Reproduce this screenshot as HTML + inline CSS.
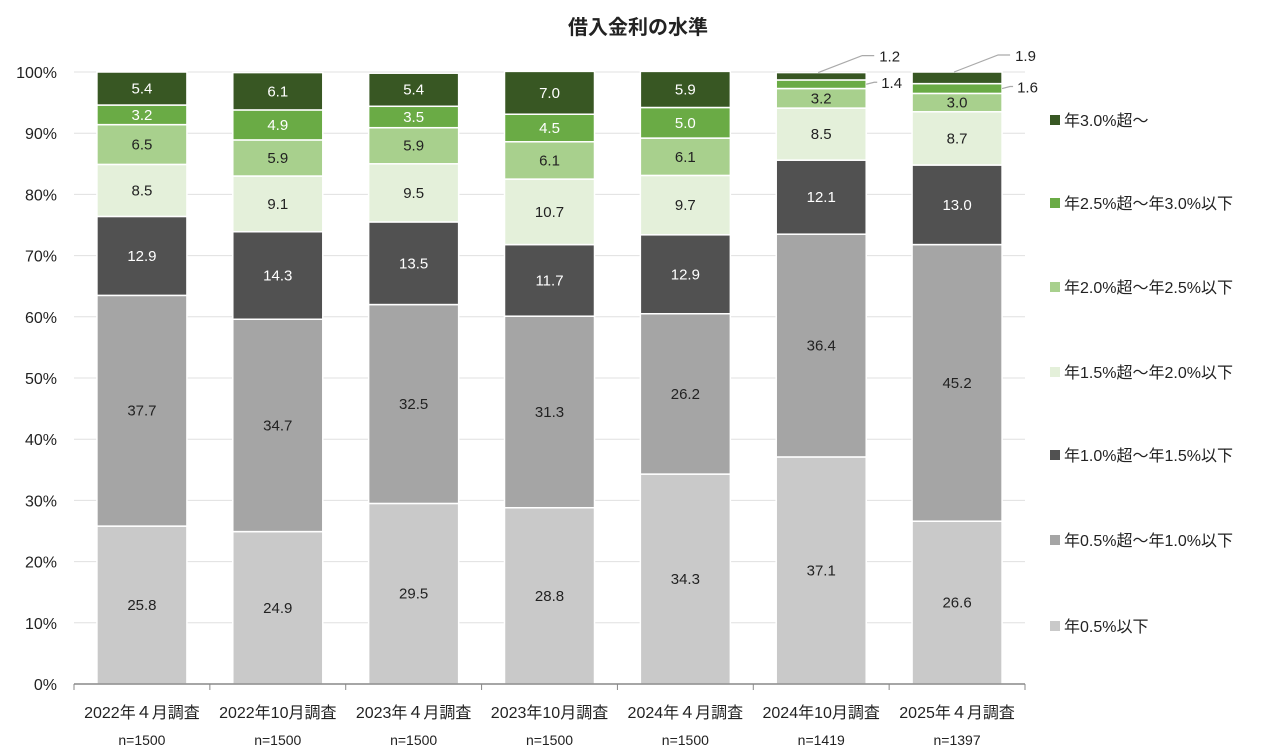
<!DOCTYPE html>
<html><head><meta charset="utf-8"><style>
body{margin:0;background:#fff;}
svg{display:block;font-family:"Liberation Sans","Noto Sans CJK JP",sans-serif;}
</style></head><body>
<svg id="chart" width="1277" height="751">
<text x="638" y="34" text-anchor="middle" font-size="20" font-weight="bold" fill="#222">借入金利の水準</text>
<g id="grid"></g><g id="bars"></g><g id="labels"></g><g id="axes"></g><g id="legend"></g>
</svg>
<script>
const categories=["2022年４月調査","2022年10月調査","2023年４月調査","2023年10月調査","2024年４月調査","2024年10月調査","2025年４月調査"];
const sampleSizes=["n=1500","n=1500","n=1500","n=1500","n=1500","n=1419","n=1397"];
const seriesNames=["年0.5%以下","年0.5%超～年1.0%以下","年1.0%超～年1.5%以下","年1.5%超～年2.0%以下","年2.0%超～年2.5%以下","年2.5%超～年3.0%以下","年3.0%超～"];
const s0=[25.8,24.9,29.5,28.8,34.3,37.1,26.6];
const s1=[37.7,34.7,32.5,31.3,26.2,36.4,45.2];
const s2=[12.9,14.3,13.5,11.7,12.9,12.1,13.0];
const s3=[8.5,9.1,9.5,10.7,9.7,8.5,8.7];
const s4=[6.5,5.9,5.9,6.1,6.1,3.2,3.0];
const s5=[3.2,4.9,3.5,4.5,5.0,1.4,1.6];
const s6=[5.4,6.1,5.4,7.0,5.9,1.2,1.9];
const yTicks=[0,10,20,30,40,50,60,70,80,90,100];
const series=[s0,s1,s2,s3,s4,s5,s6];
const colors=["#c9c9c9","#a5a5a5","#515151","#e4f0da","#a8d08d","#6aab45","#385723"];
const textColors=["#222","#222","#fff","#222","#222","#fff","#fff"];
const NS="http://www.w3.org/2000/svg";
const x0=74,x1=1025,y0=684,y100=72,band=(x1-x0)/categories.length,bw=90;
const y=v=>y0-(v/100)*(y0-y100);
const xc=i=>x0+band*(i+0.5);
function mk(t,a,p){const e=document.createElementNS(NS,t);for(const k in a)e.setAttribute(k,a[k]);p.appendChild(e);return e;}
const grid=document.getElementById('grid'),bars=document.getElementById('bars'),labels=document.getElementById('labels'),axes=document.getElementById('axes'),legend=document.getElementById('legend');
yTicks.forEach(t=>{
 const l=mk('line',{x1:x0,x2:x1,y1:y(t),y2:y(t),stroke:'#e0e0e0','stroke-width':1},grid);
 
 
 const tx=mk('text',{x:57,y:y(t)+6,'text-anchor':'end','font-size':16,fill:'#222'},axes);
 tx.textContent=t+'%';
 
 
});
const ax=mk('line',{x1:x0,x2:x1,y1:y0,y2:y0,stroke:'#888','stroke-width':1.5},axes);


for(let i=0;i<=categories.length;i++){
 const tk=mk('line',{x1:x0+band*i,x2:x0+band*i,y1:y0,y2:y0+6,stroke:'#888'},axes);
 
 
}
categories.forEach((c,i)=>{
 const t=mk('text',{x:xc(i),y:718,'text-anchor':'middle','font-size':16,fill:'#222'},axes);t.textContent=c;
 
 
 const n=mk('text',{x:xc(i),y:745,'text-anchor':'middle','font-size':14,fill:'#222'},axes);n.textContent=sampleSizes[i];
 
 
 let cum=0;
 series.forEach((s,k)=>{
  const v=s[i],yt=y(cum+v),yb=y(cum);
  const r=mk('rect',{x:xc(i)-bw/2,y:yt,width:bw,height:yb-yt,fill:colors[k],stroke:'#fff','stroke-width':1.5},bars);
  
  
  const lab=mk('text',{'font-size':15,fill:textColors[k],'text-anchor':'middle'},labels);
  lab.textContent=v.toFixed(1);
  
  
  if(v>=2.5){lab.setAttribute('x',xc(i));lab.setAttribute('y',(yt+yb)/2+5);}
  else{
   const my=(yt+yb)/2,lx=xc(i)+bw/2;
   let pts,tx,ty;
   if(k===6){const ly=yt-17;pts=(xc(i)-3)+','+yt+' '+(lx-4)+','+ly+' '+(lx+8)+','+ly;tx=lx+13;ty=ly+6;}
   else{const ly=my-2;pts=lx+','+my+' '+(lx+8)+','+ly+' '+(lx+11)+','+ly;tx=lx+15;ty=ly+6;}
   const pl=mk('polyline',{points:pts,fill:'none',stroke:'#aaa','stroke-width':1.2},labels);
   
   
   lab.setAttribute('x',tx);lab.setAttribute('y',ty);lab.setAttribute('text-anchor','start');lab.setAttribute('fill','#222');
  }
  cum+=v;
 });
});
const legY=[626,540,455,372,287,203,120];
seriesNames.forEach((nm,k)=>{
 const r=mk('rect',{x:1050,y:legY[k]-5,width:10,height:10,fill:colors[k]},legend);
 
 
 const t=mk('text',{x:1064,y:legY[k]+6,'font-size':16,fill:'#222'},legend);t.textContent=nm;
 
 
});
</script>
</body></html>
